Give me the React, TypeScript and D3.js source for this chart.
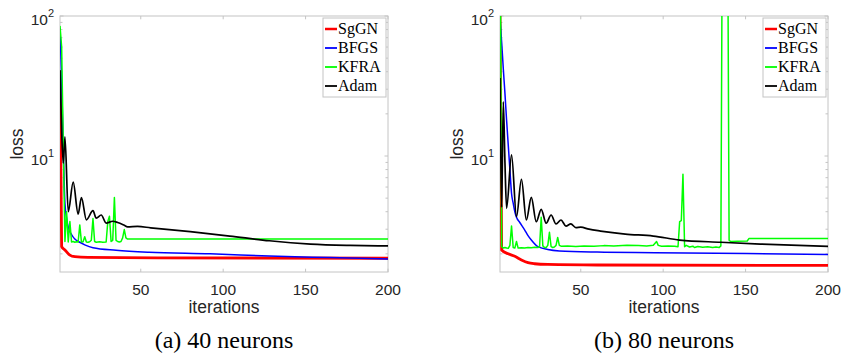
import React from 'react';
import * as d3 from 'd3';

// ---------- data (iteration, loss) ----------
const seriesNames = ['SgGN', 'BFGS', 'KFRA', 'Adam'];
const seriesColors = ['#ff0000', '#0000ff', '#00ff00', '#000000'];
const xTickValues = [50, 100, 150, 200];
const yMajorTicks = [10, 100];
const yMajorExponents = ['1', '2'];
const panelCaptions = ['(a) 40 neurons', '(b) 80 neurons'];

// (a) 40 neurons
const sggn40: [number, number][] = [
  [1, 41], [2, 2.25], [4, 2.13], [7, 1.96], [10, 1.91], [18, 1.89], [60, 1.875], [200, 1.86],
];
const bfgs40: [number, number][] = [
  [1, 82], [2, 35], [3, 11], [4, 4.6], [5, 3.6], [6, 3.1], [8, 2.75], [10, 2.55], [13, 2.42],
  [16, 2.32], [21, 2.21], [35, 2.12], [55, 2.05], [92, 2.0], [128, 1.93], [165, 1.88], [200, 1.84],
];
const kfra40: [number, number][] = [
  [1, 85], [2, 60], [3, 12], [4, 2.45], [5, 4.0], [6, 2.43], [7, 3.4], [8, 2.43], [9, 2.45],
  [10, 2.42], [11, 2.44], [12, 2.43], [13, 3.22], [14, 2.43], [15, 2.44], [16, 2.65], [17, 2.43],
  [18, 2.42], [19, 2.44], [20, 2.5], [21, 3.58], [22, 2.45], [23, 2.42], [25, 2.44], [27, 2.42],
  [29, 2.43], [30, 3.4], [31, 3.71], [32, 2.45], [33, 2.5], [34, 5.06], [35, 2.5], [36, 2.45],
  [37, 2.43], [38, 2.45], [39, 2.6], [40, 2.98], [41, 2.6], [42, 2.55], [200, 2.55],
];
const adam40: [number, number][] = [
  [1, 41], [2, 15], [3, 8.9], [4, 13.7], [6, 4.0], [9, 6.5], [12, 3.85], [14, 5.04], [17, 3.5],
  [21, 4.07], [23, 3.6], [26, 3.79], [29, 3.32], [33, 3.42], [36, 3.35], [40, 3.2], [42, 3.12],
  [48, 3.14], [56, 3.07], [80, 2.88], [104, 2.68], [128, 2.48], [153, 2.35], [177, 2.3], [200, 2.28],
];

// (b) 80 neurons
const sggn80: [number, number][] = [
  [1, 100], [2, 2.13], [6, 2.0], [10, 1.92], [14, 1.81], [18, 1.73], [22, 1.7], [30, 1.68],
  [60, 1.665], [200, 1.655],
];
const bfgs80: [number, number][] = [
  [1, 98], [2, 65], [3, 42], [4, 28], [5, 18], [6, 12], [7, 8], [8, 5.4], [9, 4.6], [10, 4.0],
  [11, 3.65], [13, 3.35], [16, 2.96], [18, 2.7], [20, 2.51], [24, 2.25], [30, 2.15], [37, 2.1],
  [60, 2.06], [95, 2.04], [200, 1.98],
];
const kfra80: [number, number][] = [
  [1, 1000], [2, 2.25], [3, 2.2], [4, 2.22], [5, 2.2], [6, 2.19], [7, 2.3], [8, 3.16], [9, 2.22],
  [10, 2.2], [11, 2.45], [12, 2.2], [14, 2.21], [16, 2.2], [18, 2.22], [20, 2.21], [22, 2.23],
  [24, 2.22], [25, 2.25], [26, 3.65], [27, 2.28], [28, 2.22], [29, 2.22], [30, 2.3], [31, 2.85],
  [32, 2.25], [33, 2.22], [34, 2.24], [35, 2.3], [36, 2.62], [37, 2.3], [38, 2.27], [42, 2.28],
  [47, 2.26], [52, 2.28], [58, 2.27], [64, 2.29], [70, 2.28], [78, 2.3], [85, 2.29], [90, 2.28],
  [94, 2.3], [96, 2.45], [97, 2.3], [99, 2.27], [103, 2.28], [107, 2.27], [109, 2.25], [110, 3.4],
  [111, 3.45], [112, 7.4], [113, 2.25], [114, 2.3], [116, 2.24], [118, 2.27], [119, 2.22],
  [121, 2.26], [124, 2.23], [127, 2.25], [130, 2.22], [132, 2.24], [134, 2.22], [135, 2.28],
  [136, 1000], [139, 1000], [140, 2.5], [141, 2.45], [145, 2.46], [151, 2.47], [152, 2.57], [200, 2.57],
];
const adam80: [number, number][] = [
  [1, 36], [2, 4.3], [3, 24.4], [4, 9], [5, 4.23], [8, 10.2], [11, 3.68], [14, 6.82], [17, 3.49],
  [20, 5.07], [23, 3.39], [26, 4.16], [29, 3.31], [32, 3.79], [35, 3.27], [38, 3.49], [41, 3.16],
  [44, 3.27], [47, 3.08], [50, 3.1], [55, 3.0], [62, 2.91], [77, 2.77], [94, 2.68], [110, 2.51],
  [135, 2.42], [159, 2.35], [200, 2.26],
];

const panels = [
  { series: [sggn40, bfgs40, kfra40, adam40], caption: panelCaptions[0] },
  { series: [sggn80, bfgs80, kfra80, adam80], caption: panelCaptions[1] },
];

// ---------- layout ----------
const W = 841;
const H = 356;
const panelLefts = [60, 500];
const plotW = 328;
const plotTop = 16;
const plotBottom = 272;
const axisColor = '#c4c4c4';
const textColor = '#262626';
const sans = '"Liberation Sans", Arial, Helvetica, sans-serif';
const serif = '"Liberation Serif", "Times New Roman", serif';

function Panel({ idx }: { idx: number }) {
  const left = panelLefts[idx];
  const right = left + plotW;
  const x = d3.scaleLinear().domain([1, 200]).range([left, right]);
  const y = d3.scaleLog().domain([1.484, 100]).range([plotBottom, plotTop]);
  const clipId = `clip-${idx}`;
  const minorTicks: number[] = [];
  for (const dec of [1, 10]) {
    for (let k = 2; k <= 9; k++) {
      const v = k * dec;
      if (v >= 1.484 && v <= 100) minorTicks.push(v);
    }
  }
  const p = panels[idx];
  const legendX = right - 65;
  const legendY = 18;
  return (
    <g>
      <defs>
        <clipPath id={clipId}>
          <rect x={left} y={plotTop} width={plotW} height={plotBottom - plotTop} />
        </clipPath>
      </defs>
      <rect x={left} y={plotTop} width={plotW} height={plotBottom - plotTop} fill="#fff" stroke={axisColor} strokeWidth={1} />
      {/* x ticks */}
      {xTickValues.map((t) => (
        <g key={'xt' + t}>
          <line x1={x(t)} x2={x(t)} y1={plotBottom} y2={plotBottom - 3.3} stroke={axisColor} />
          <line x1={x(t)} x2={x(t)} y1={plotTop} y2={plotTop + 3.3} stroke={axisColor} />
          <text x={x(t)} y={294.5} textAnchor="middle" fontFamily={sans} fontSize={15.5} fill={textColor}>
            {t}
          </text>
        </g>
      ))}
      {/* y ticks */}
      {minorTicks.map((t) => (
        <g key={'ym' + t}>
          <line x1={left} x2={left + 2.5} y1={y(t)} y2={y(t)} stroke={axisColor} />
          <line x1={right} x2={right - 2.5} y1={y(t)} y2={y(t)} stroke={axisColor} />
        </g>
      ))}
      {yMajorTicks.map((t, i) => (
        <g key={'yM' + t}>
          <line x1={left} x2={left + 3.5} y1={y(t)} y2={y(t)} stroke={axisColor} />
          <line x1={right} x2={right - 3.5} y1={y(t)} y2={y(t)} stroke={axisColor} />
          <text x={left - 6} y={y(t) + 9} textAnchor="end" fontFamily={sans} fontSize={15.5} fill={textColor}>
            10
            <tspan dy={-8} fontSize={11}>{yMajorExponents[i]}</tspan>
          </text>
        </g>
      ))}
      {/* lines */}
      <g clipPath={`url(#${clipId})`}>
        {p.series.map((data, si) => {
          const curve = si === 2 ? d3.curveLinear : d3.curveMonotoneX;
          const line = d3
            .line<[number, number]>()
            .x((d) => x(d[0]))
            .y((d) => y(d[1]))
            .curve(curve);
          return (
            <path
              key={si}
              d={line(data) || ''}
              fill="none"
              stroke={seriesColors[si]}
              strokeWidth={si === 0 ? 2.8 : si === 3 ? 1.7 : 1.5}
              strokeLinejoin="round"
            />
          );
        })}
      </g>
      {/* legend */}
      <rect x={legendX} y={legendY} width={63} height={79} fill="#fff" stroke={axisColor} strokeWidth={1} />
      {seriesNames.map((name, i) => {
        const cy = legendY + 11 + i * 19;
        return (
          <g key={name}>
            <line x1={legendX + 2} x2={legendX + 14} y1={cy} y2={cy} stroke={seriesColors[i]} strokeWidth={i === 0 ? 2.5 : 1.8} />
            <text x={legendX + 15} y={cy} dy="0.34em" fontFamily={serif} fontSize={16} fill="#000">
              {name}
            </text>
          </g>
        );
      })}
      {/* axis labels */}
      <text x={(left + right) / 2} y={313} textAnchor="middle" fontFamily={sans} fontSize={17.5} fill={textColor}>
        iterations
      </text>
      <text
        transform={`translate(${left - 37},${(plotTop + plotBottom) / 2}) rotate(-90)`}
        textAnchor="middle"
        fontFamily={sans}
        fontSize={17.5}
        fill={textColor}
      >
        loss
      </text>
      <text x={(left + right) / 2} y={348} textAnchor="middle" fontFamily={serif} fontSize={24} fill="#000">
        {p.caption}
      </text>
    </g>
  );
}

export default function App() {
  return (
    <svg
      width={W}
      height={H}
      viewBox={`0 0 ${W} ${H}`}
      style={{ position: 'absolute', left: 0, top: 0, background: '#fff' }}
    >
      <rect x={0} y={0} width={W} height={H} fill="#fff" />
      <Panel idx={0} />
      <Panel idx={1} />
    </svg>
  );
}
